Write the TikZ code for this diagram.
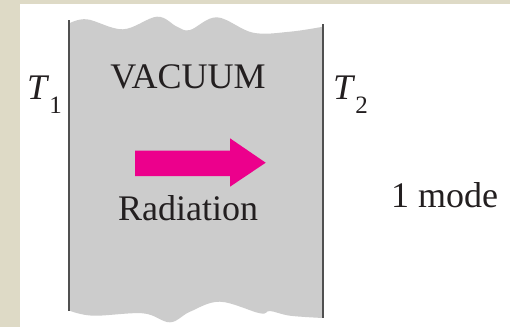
\documentclass[tikz,border=0pt]{standalone}
\usepackage{fontspec}
\setmainfont{Liberation Serif}
\definecolor{beige}{RGB}{222,218,198}
\definecolor{vacgray}{RGB}{204,204,204}
\definecolor{wallgray}{RGB}{80,80,80}
\definecolor{radpink}{RGB}{236,0,140}
\definecolor{ink}{RGB}{35,31,32}
\tikzset{
  lbl/.style={inner sep=0pt, anchor=base, text=ink, font=\fontsize{36}{40}\selectfont},
  wall/.style={draw=wallgray, line width=2pt},
}
\newcommand{\subT}[1]{\textit{T}\raisebox{-14pt}{\fontsize{25}{25}\selectfont #1}}
\begin{document}
\begin{tikzpicture}[x=1pt,y=-1pt]
\useasboundingbox (0,0) rectangle (510,327);
\fill[beige] (0,0) rectangle (510,327);
\fill[white] (20,4) rectangle (510,327);
% vacuum gap
\fill[vacgray] plot[smooth, tension=0.6] coordinates {(69,23.5) (87,19.3) (123,29.3) (157,16.7) (177,26.7) (190,30) (217,17.3) (253,32.7) (290,31.7) (323,26.7)}
  -- plot[smooth, tension=0.6] coordinates {(323,318) (290,315.7) (270,311) (260,313.3) (220,301.7) (190,311.7) (170,322.3) (143,313.3) (93,315.7) (69,310.5)} -- cycle;
% walls
\coordinate (w1t) at (69,20);
\coordinate (w1b) at (69,311);
\coordinate (w2t) at (322.5,24);
\coordinate (w2b) at (322.5,318.3);
\draw[wall] (w1t) -- (w1b);
\draw[wall] (w2t) -- (w2b);
% arrow
\fill[radpink] (135,150.7) -- (230,150.7) -- (230,138.3) -- (265.7,162.7) -- (230,186.7) -- (230,176) -- (135,176) -- cycle;
% labels
\node[lbl] (vac) at (188,88) {VACUUM};
\node[lbl] (rad) at (188,220.7) {Radiation};
\node[lbl, anchor=base west] (mode) at (391,207) {1 mode};
\node[lbl, anchor=base west] (t1) at (27,99) {\subT{1}};
\node[lbl, anchor=base west] (t2) at (333,99) {\subT{2}};
\end{tikzpicture}
\end{document}
